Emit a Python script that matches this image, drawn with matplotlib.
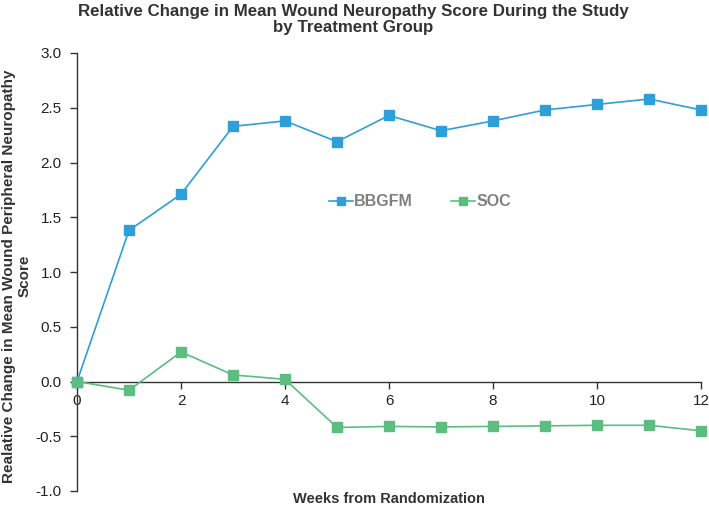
import matplotlib
matplotlib.use("Agg")
import matplotlib.pyplot as plt
from matplotlib.ticker import FixedLocator, FormatStrFormatter

plt.rcParams['font.family'] = ['Liberation Sans', 'DejaVu Sans']

weeks = [0, 1, 2, 3, 4, 5, 6, 7, 8, 9, 10, 11, 12]
bbgfm = [0.0, 1.38, 1.71, 2.33, 2.38, 2.19, 2.43, 2.29, 2.38, 2.48, 2.53, 2.58, 2.48]
soc = [0.0, -0.08, 0.27, 0.06, 0.02, -0.42, -0.41, -0.415, -0.41, -0.405, -0.40, -0.40, -0.45]
xticks = [0, 2, 4, 6, 8, 10, 12]
yticks = [-1.0, -0.5, 0.0, 0.5, 1.0, 1.5, 2.0, 2.5, 3.0]

W, H = 709, 507
fig = plt.figure(figsize=(W / 100, H / 100), dpi=100)
left, right, top, bottom = 77, 701, 53, 491
ax = fig.add_axes([left / W, 1 - bottom / H, (right - left) / W, (bottom - top) / H])

blue = '#2e9fd8'
green = '#5cbd80'
ax.plot(weeks, bbgfm, color=blue, lw=1.2, marker='s', ms=7.8, mec=blue, mfc=blue, label='BBGFM', clip_on=False, zorder=3)
ax.plot(weeks, soc, color=green, lw=1.2, marker='s', ms=7.8, mec=green, mfc=green, label='SOC', clip_on=False, zorder=3)

ax.set_xlim(0, 12)
ax.set_ylim(-1.0, 3.0)
ax.spines['top'].set_visible(False)
ax.spines['right'].set_visible(False)
ax.spines['bottom'].set_position(('data', 0))
for s in ('left', 'bottom'):
    ax.spines[s].set_color('#333333')
    ax.spines[s].set_linewidth(1.0)

ax.xaxis.set_major_locator(FixedLocator(xticks))
ax.yaxis.set_major_locator(FixedLocator(yticks))
ax.yaxis.set_major_formatter(FormatStrFormatter('%.1f'))
ax.tick_params(axis='both', direction='out', length=5, width=1.0, color='#333333',
               labelsize=11, labelcolor='#222222')
ax.tick_params(axis='y', pad=6)
ax.tick_params(axis='x', pad=4)

fig.text(17 / W, 1 - 276 / H, 'Realative Change in Mean Wound Peripheral Neuropathy\nScore',
         rotation=90, ha='center', va='center', multialignment='center',
         fontsize=11, fontweight='bold', color='#333333', linespacing=1.1)
fig.text((left + right) / 2 / W, 1 - 499 / H, 'Weeks from Randomization', ha='center', va='center',
         fontsize=10.5, fontweight='bold', color='#333333')

fig.text(0.498, 1 - 4 / H, 'Relative Change in Mean Wound Neuropathy Score During the Study\nby Treatment Group',
         ha='center', va='top', fontsize=12.2, fontweight='bold', color='#333333', linespacing=1.1)

leg = ax.legend(loc='center', bbox_to_anchor=((420 - left) / (right - left), (bottom - 202) / (bottom - top)),
                ncol=2, frameon=False, fontsize=11.5, handlelength=1.5, handletextpad=0.05,
                columnspacing=2.4, markerscale=0.8)
for t in leg.get_texts():
    t.set_color('#808080')
    t.set_fontweight('bold')

fig.savefig('out.png', dpi=100)
